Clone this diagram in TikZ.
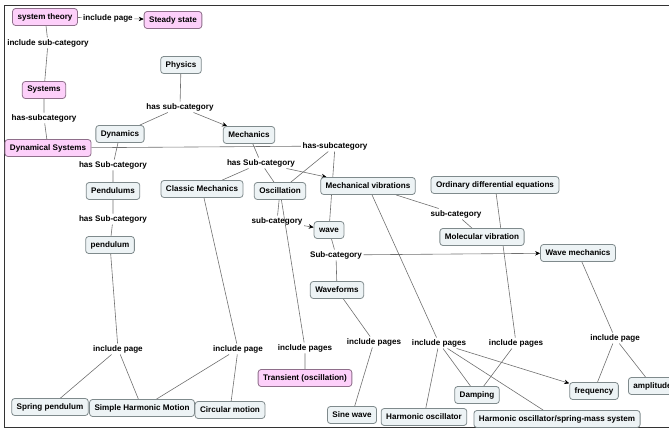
\documentclass[tikz,border=0pt]{standalone}
\usepackage{fontspec}
\setmainfont{Liberation Sans}
\usetikzlibrary{arrows.meta,backgrounds}
\definecolor{conceptfill}{HTML}{EDF3F5}
\definecolor{conceptline}{HTML}{7F8A8C}
\definecolor{focusfill}{HTML}{FDD0FA}
\definecolor{focusline}{HTML}{8E6E8A}
\definecolor{linkgray}{HTML}{707070}
\definecolor{framegray}{HTML}{333333}

\begin{document}
\begin{tikzpicture}[
  x=1pt,y=-1pt,
  >={Stealth[length=5pt,width=4.5pt,color=black]},
  concept/.style={draw=conceptline,fill=conceptfill,rounded corners=3pt,line width=.8pt,minimum height=17pt,inner xsep=5pt,inner ysep=2pt},
  focus/.style={concept,draw=focusline,fill=focusfill},
  phrase/.style={inner sep=1.5pt},
  link/.style={draw=linkgray,line width=.6pt},
  every node/.style={font=\bfseries\fontsize{8.1}{9.5}\selectfont}
]
  \useasboundingbox (0,0) rectangle (669,430);
  \draw[framegray,line width=1pt] (680,6) -- (4,6) -- (4,427) -- (680,427);

  \node[focus] (systheory) at (45,17) {system theory};
  \node[focus] (steady) at (173,20) {Steady state};
  \node[concept] (physics) at (181,65) {Physics};
  \node[focus] (systems) at (44,90) {Systems};
  \node[concept] (dynamics) at (120,134) {Dynamics};
  \node[concept] (mechanics) at (249,135) {Mechanics};
  \node[focus] (dynsys) at (48,148) {Dynamical Systems};
  \node[concept] (pendulums) at (113,191) {Pendulums};
  \node[concept] (classic) at (202,189) {Classic Mechanics};
  \node[concept] (oscillation) at (280,191) {Oscillation};
  \node[concept] (mechvib) at (368,186) {Mechanical vibrations};
  \node[concept] (ode) at (495,185) {Ordinary differential equations};
  \node[concept] (wave) at (329,230) {wave};
  \node[concept] (molvib) at (482,237) {Molecular vibration};
  \node[concept] (wavemech) at (578,253) {Wave mechanics};
  \node[concept] (waveforms) at (337,290) {Waveforms};
  \node[concept] (pendulum) at (110,245) {pendulum};
  \node[concept] (springpend) at (50,407) {Spring pendulum};
  \node[concept] (shm) at (142,408) {Simple Harmonic Motion};
  \node[concept] (circular) at (230,410) {Circular motion};
  \node[focus] (transient) at (305,378) {Transient (oscillation)};
  \node[concept] (sinewave) at (352,415) {Sine wave};
  \node[concept] (harmosc) at (424,417) {Harmonic oscillator};
  \node[concept] (damping) at (477,395) {Damping};
  \node[concept] (springmass) at (557,419) {Harmonic oscillator/spring-mass system};
  \node[concept] (frequency) at (594,391) {frequency};
  \node[concept,anchor=west] (amplitude) at (628,386) {amplitude};

  \node[phrase] (incpage) at (108,18) {include page};
  \node[phrase] (incsub) at (48,43) {include sub-category};
  \node[phrase] (hassubsys) at (44,118) {has-subcategory};
  \node[phrase] (hassubphys) at (180,107) {has sub-category};
  \node[phrase] (hassubdyn) at (113,165) {has Sub-category};
  \node[phrase] (hassubmech) at (261,163) {has Sub-category};
  \node[phrase] (hassubds) at (335,146) {has-subcategory};
  \node[phrase] (hassubpend) at (113,219) {has Sub-category};
  \node[phrase] (subosc) at (277,221) {sub-category};
  \node[phrase] (submv) at (456,214) {sub-category};
  \node[phrase] (subwave) at (336,255) {Sub-category};
  \node[phrase] (incpend) at (118,349) {include page};
  \node[phrase] (incclassic) at (238,349) {include page};
  \node[phrase] (incosc) at (305,348) {include pages};
  \node[phrase] (incforms) at (374,342) {include pages};
  \node[phrase] (incmv) at (439,343) {include pages};
  \node[phrase] (incode) at (516,343) {include pages};
  \node[phrase] (incwm) at (615,338) {include page};

  \begin{scope}[on background layer]
    \draw[link] (systheory) -- (incpage);
    \draw[link,->] (incpage) -- (steady);
    \draw[link] (systheory) -- (incsub) -- (systems);
    \draw[link] (systems) -- (hassubsys) -- (dynsys);
    \draw[link] (physics) -- (hassubphys) -- (dynamics);
    \draw[link,->] (hassubphys) -- (mechanics);
    \draw[link] (dynamics) -- (hassubdyn) -- (pendulums);
    \draw[link] (pendulums) -- (hassubpend) -- (pendulum);
    \draw[link] (mechanics) -- (hassubmech) -- (classic);
    \draw[link] (hassubmech) -- (oscillation);
    \draw[link,->] (hassubmech) -- (mechvib);
    \draw[link] (dynsys) -- (hassubds) -- (oscillation);
    \draw[link] (hassubds) -- (wave);
    \draw[link] (oscillation) -- (subosc);
    \draw[link,->] (subosc) -- (wave);
    \draw[link] (oscillation) -- (incosc) -- (transient);
    \draw[link] (mechvib) -- (submv) -- (molvib);
    \draw[link] (wave) -- (subwave) -- (waveforms);
    \draw[link,->] (subwave) -- (wavemech);
    \draw[link] (waveforms) -- (incforms) -- (sinewave);
    \draw[link] (mechvib) -- (incmv) -- (harmosc);
    \draw[link] (incmv) -- (damping);
    \draw[link] (incmv) -- (springmass);
    \draw[link,->] (incmv) -- (frequency);
    \draw[link] (ode) -- (incode) -- (damping);
    \draw[link] (wavemech) -- (incwm) -- (frequency);
    \draw[link] (incwm) -- (amplitude);
    \draw[link] (pendulum) -- (incpend) -- (springpend);
    \draw[link] (incpend) -- (shm);
    \draw[link] (classic) -- (incclassic) -- (shm);
    \draw[link] (incclassic) -- (circular);
  \end{scope}
\end{tikzpicture}
\end{document}
